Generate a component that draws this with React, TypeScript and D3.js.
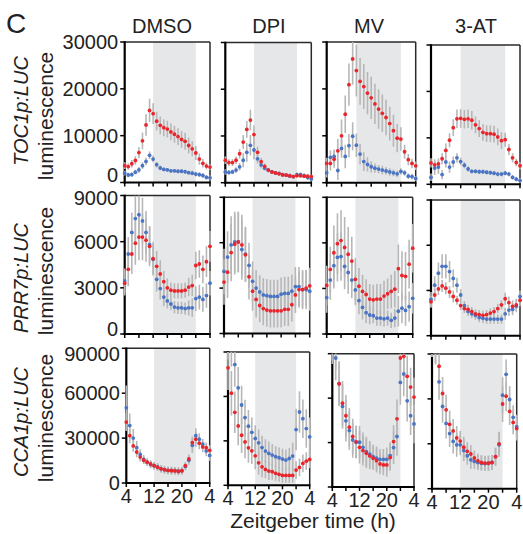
import React from "react";
import * as d3 from "d3";

// ---------- categories / ticks ----------
const ZT = [4, 5, 6, 7, 8, 9, 10, 11, 12, 13, 14, 15, 16, 17, 18, 19, 20, 21, 22, 23, 24, 25, 26, 27, 28];
const treatments = ["DMSO", "DPI", "MV", "3-AT"];
const reporters = ["TOC1p:LUC", "PRR7p:LUC", "CCA1p:LUC"];
const yMaxByRow = [30000, 9000, 90000];
const yTicksByRow = [
  [0, 10000, 20000, 30000],
  [0, 3000, 6000, 9000],
  [0, 30000, 60000, 90000],
];
const xTicks = [4, 8, 12, 16, 20, 24, 28];
const xTickLabelValues = [4, 12, 20, 28];
const xTickLabelTexts = ["4", "12", "20", "4"];
const darkPeriod = [12, 24];

// ---------- TOC1p:LUC ----------
const tocDmsoRed = [3600, 3400, 4000, 4700, 6400, 8900, 12300, 15400, 14700, 13100, 12200, 11700, 11400, 10800, 10300, 9800, 9200, 8800, 7900, 7200, 6300, 5000, 4100, 3500, 3300];
const tocDmsoRedErr = [700, 700, 800, 900, 1200, 1800, 2300, 2500, 2200, 2000, 1900, 1800, 1800, 1800, 1800, 1800, 1800, 1800, 1700, 1600, 1500, 1200, 900, 700, 600];
const tocDmsoBlue = [2000, 1600, 1700, 2200, 2700, 3600, 4500, 5800, 5000, 3800, 3100, 2800, 2700, 2500, 2500, 2400, 2400, 2300, 2100, 2000, 1800, 1700, 1500, 1100, 1000];
const tocDmsoBlueErr = [500, 500, 500, 500, 600, 700, 800, 800, 700, 600, 500, 400, 400, 400, 400, 400, 400, 400, 400, 500, 500, 500, 500, 500, 500];
const tocDpiRed = [4800, 4300, 4300, 4800, 6200, 8700, 11400, 13400, 10300, 6500, 4500, 3500, 2700, 2300, 2100, 1900, 1700, 1600, 1500, 1300, 1500, 1500, 1400, 1400, 1300];
const tocDpiRedErr = [800, 700, 700, 800, 1000, 1500, 1800, 2200, 2000, 1200, 800, 600, 500, 400, 400, 400, 400, 400, 400, 400, 400, 400, 400, 400, 400];
const tocDpiBlue = [2300, 2200, 2300, 2700, 3400, 4800, 6500, 8000, 7000, 5100, 3800, 3100, 2700, 2300, 2100, 2000, 1700, 1600, 1400, 1300, 1700, 1700, 1500, 1100, 800];
const tocDpiBlueErr = [600, 500, 500, 600, 800, 1500, 2000, 2200, 2000, 1000, 700, 500, 400, 400, 400, 400, 400, 400, 400, 400, 500, 500, 500, 500, 500];
const tocMvRed = [4100, 4100, 5000, 6800, 10000, 14600, 20900, 26400, 23900, 21600, 20500, 19100, 18100, 16800, 15700, 14800, 13900, 12600, 11100, 9500, 9300, 6600, 4900, 4100, 3600];
const tocMvRedErr = [1200, 1500, 1800, 2500, 3500, 4000, 4500, 5500, 5500, 5000, 4800, 4500, 4500, 4300, 4200, 4000, 3800, 3600, 3400, 3000, 2500, 1500, 1200, 1000, 900];
const tocMvBlue = [2100, 5400, 5600, 2600, 7300, 5600, 7900, 9900, 8000, 6100, 4500, 3900, 3400, 3100, 2900, 2700, 2500, 2300, 2100, 1900, 2400, 2100, 1400, 1300, 900];
const tocMvBlueErr = [1000, 1500, 1500, 2000, 2000, 2500, 2500, 3000, 2500, 2200, 2000, 1500, 1200, 1000, 900, 900, 800, 800, 700, 700, 700, 600, 600, 600, 500];
const tocAtRed = [4600, 4200, 4400, 5500, 7300, 9500, 12200, 14100, 14200, 14000, 14100, 13800, 12800, 12000, 11200, 10900, 10900, 10800, 10200, 9400, 9600, 7500, 5700, 4700, 4000];
const tocAtRedErr = [1000, 1200, 1200, 1200, 1500, 1500, 1800, 2000, 2000, 2000, 2000, 2000, 1800, 1800, 1800, 1800, 1800, 1800, 1800, 1800, 1500, 1200, 1000, 800, 800];
const tocAtBlue = [1500, 3500, 3700, 2100, 4800, 3700, 4800, 5700, 4900, 4100, 3300, 2800, 2800, 2700, 2700, 2600, 2500, 2400, 2200, 2200, 2400, 2200, 1500, 1100, 800];
const tocAtBlueErr = [800, 1500, 1500, 1000, 1200, 1200, 1200, 1000, 800, 700, 600, 500, 500, 500, 500, 500, 500, 500, 500, 500, 500, 500, 500, 500, 500];

// ---------- PRR7p:LUC ----------
const prrDmsoRed = [3300, 4200, 5200, 5900, 6300, 6300, 6100, 5700, 4900, 4400, 3900, 3400, 3000, 2850, 2800, 2800, 2800, 2850, 3050, 3150, 4450, 4550, 4200, 4700, 5700];
const prrDmsoRedErr = [800, 1100, 1300, 1400, 1500, 1500, 1400, 1300, 1100, 1000, 900, 700, 600, 500, 500, 500, 500, 500, 600, 700, 900, 900, 900, 1000, 1000];
const prrDmsoBlue = [3450, 5200, 6600, 7500, 7750, 7350, 6600, 5800, 4850, 3550, 2950, 2400, 2150, 1950, 1750, 1700, 1700, 1650, 1700, 1700, 2300, 2400, 2250, 2500, 3300];
const prrDmsoBlueErr = [800, 1100, 1300, 1500, 1600, 1500, 1400, 1200, 1000, 800, 700, 600, 500, 400, 400, 400, 400, 400, 500, 600, 800, 800, 800, 800, 800];
const prrDpiRed = [3400, 4050, 5350, 5900, 6050, 5850, 5200, 3750, 2800, 2250, 1850, 1650, 1550, 1500, 1500, 1500, 1500, 1600, 1600, 1900, 2550, 2900, 2900, 3000, 3150];
const prrDpiRedErr = [1500, 1700, 1900, 2000, 2000, 2000, 1800, 1500, 1300, 1200, 1100, 1100, 1100, 1100, 1100, 1100, 1100, 1100, 1100, 1100, 1200, 1200, 1200, 1200, 1200];
const prrDpiBlue = [4100, 5050, 5850, 6050, 6050, 5550, 5250, 4500, 3450, 3000, 2750, 2550, 2500, 2450, 2450, 2450, 2600, 2650, 2650, 2800, 3100, 3100, 2900, 2900, 2800];
const prrDpiBlueErr = [1500, 1700, 1900, 2000, 2000, 2000, 1800, 1500, 1300, 1200, 1100, 1100, 1100, 1100, 1100, 1100, 1100, 1100, 1100, 1100, 1300, 1300, 1300, 1300, 1300];
const prrMvRed = [3200, 4250, 5350, 5950, 6150, 5700, 5250, 4800, 3600, 3150, 2800, 2600, 2300, 2250, 2300, 2300, 2500, 2650, 2800, 2950, 4300, 3850, 3800, 4600, 5650];
const prrMvRedErr = [1300, 1500, 1800, 2000, 2000, 2000, 1800, 1600, 1400, 1200, 1100, 1000, 1000, 1000, 1000, 1000, 1000, 1000, 1100, 1200, 1600, 1600, 1600, 1600, 1600];
const prrMvBlue = [2400, 3550, 4500, 5050, 5100, 4450, 4050, 3550, 2900, 2200, 1750, 1400, 1250, 1200, 1050, 1050, 1000, 1050, 900, 1050, 1500, 1700, 1550, 1800, 2350];
const prrMvBlueErr = [1000, 1300, 1500, 1600, 1600, 1500, 1400, 1200, 1000, 900, 800, 700, 600, 500, 500, 500, 500, 500, 500, 600, 1000, 1000, 1000, 1000, 1000];
const prrAtRed = [2250, 2700, 3100, 3300, 3150, 2900, 2600, 2350, 2000, 1800, 1750, 1600, 1450, 1400, 1350, 1400, 1500, 1600, 1800, 2050, 2450, 2200, 1950, 2050, 2350];
const prrAtRedErr = [400, 400, 400, 400, 400, 400, 400, 300, 300, 300, 300, 300, 300, 300, 300, 300, 300, 300, 300, 300, 400, 400, 400, 400, 400];
const prrAtBlue = [2400, 3350, 4150, 4600, 4600, 4250, 3800, 3350, 2700, 2000, 1600, 1450, 1350, 1200, 1150, 1100, 1100, 1100, 1100, 1100, 1450, 1700, 1750, 1950, 2600];
const prrAtBlueErr = [500, 600, 700, 800, 800, 700, 600, 500, 400, 300, 300, 300, 300, 300, 300, 300, 300, 300, 300, 300, 400, 400, 400, 400, 400];

// ---------- CCA1p:LUC ----------
const ccaDmsoRed = [40700, 31600, 24800, 20700, 17300, 15200, 13900, 12700, 11600, 10500, 9500, 8900, 8400, 8200, 8200, 7700, 8200, 11600, 16100, 27000, 29300, 26600, 24100, 23600, 21800];
const ccaDmsoRedErr = [6000, 5000, 4000, 3500, 3000, 2500, 2500, 2500, 2500, 2500, 2500, 2500, 2500, 2500, 2500, 2500, 2500, 2500, 3000, 4000, 5000, 4000, 3500, 3500, 3500];
const ccaDmsoBlue = [50200, 38400, 30000, 23600, 19100, 15700, 13900, 12300, 11600, 10700, 9500, 8900, 8400, 8400, 8200, 8000, 8200, 11100, 15200, 25200, 31600, 29300, 25900, 21400, 18400];
const ccaDmsoBlueErr = [15000, 8000, 6000, 4500, 3500, 3000, 2500, 2500, 2500, 2500, 2500, 2500, 2500, 2500, 2500, 2500, 2500, 2500, 3000, 5000, 5000, 4000, 3500, 3500, 3500];
const ccaDpiRed = [79300, 62200, 49300, 40100, 33800, 29300, 25300, 23300, 19900, 15200, 12500, 10700, 9600, 9200, 8100, 7400, 6700, 6700, 6700, 6700, 10300, 12100, 14800, 16300, 17500];
const ccaDpiRedErr = [15000, 15000, 14000, 13000, 12000, 11000, 10000, 9000, 9000, 8000, 7000, 6000, 6000, 5500, 5000, 5000, 5000, 5000, 5000, 5000, 6000, 6000, 6000, 6000, 6000];
const ccaDpiBlue = [100000, 95000, 81500, 65800, 54200, 45700, 39900, 35800, 31600, 28700, 25500, 23100, 21500, 20400, 19300, 18600, 17700, 17000, 18100, 19700, 37600, 49500, 45000, 38300, 32700];
const ccaDpiBlueErr = [15000, 15000, 15000, 14000, 13000, 12000, 11000, 10000, 9000, 9000, 8000, 8000, 8000, 7500, 7000, 7000, 7000, 7000, 7000, 9000, 14000, 14000, 13000, 13000, 13000];
const ccaMvRed = [100000, 94000, 69700, 56600, 48100, 40400, 34100, 30500, 26800, 24600, 22800, 21000, 19400, 17800, 15600, 14900, 14900, 19900, 30700, 46000, 87100, 88200, 74700, 67500, 60700];
const ccaMvRedErr = [15000, 15000, 15000, 15000, 14000, 13000, 12000, 11000, 11000, 10000, 10000, 9000, 8000, 8000, 7000, 7000, 8000, 9000, 11000, 13000, 15000, 15000, 14000, 13000, 13000];
const ccaMvBlue = [98000, 87100, 69700, 54400, 44700, 38100, 31800, 30200, 30200, 26800, 23900, 22100, 20500, 19400, 18700, 18700, 18700, 21200, 26600, 34100, 70600, 76300, 58200, 48100, 42600];
const ccaMvBlueErr = [15000, 15000, 15000, 15000, 14000, 13000, 12000, 11000, 11000, 10000, 10000, 9000, 8000, 8000, 7000, 7000, 8000, 9000, 11000, 13000, 15000, 15000, 14000, 13000, 13000];
const ccaAtRed = [100000, 95000, 81800, 63600, 52700, 43000, 38600, 33900, 31800, 27700, 25000, 23200, 20500, 18600, 17500, 17000, 17000, 17500, 21400, 30000, 56600, 61800, 51600, 44300, 40200];
const ccaAtRedErr = [12000, 12000, 12000, 11000, 10000, 9000, 8000, 8000, 7000, 7000, 6000, 6000, 5000, 5000, 5000, 5000, 5000, 5000, 6000, 8000, 12000, 10000, 9000, 8000, 8000];
const ccaAtBlue = [100000, 96000, 71400, 55000, 43600, 36800, 31600, 29300, 29300, 25500, 22000, 19300, 18200, 17500, 17000, 16800, 17000, 17500, 21400, 29300, 62500, 76400, 59600, 47700, 41400];
const ccaAtBlueErr = [12000, 12000, 12000, 11000, 10000, 9000, 8000, 8000, 7000, 7000, 6000, 6000, 5000, 5000, 5000, 5000, 5000, 5000, 6000, 8000, 12000, 10000, 9000, 8000, 8000];

const panelData = [
  [
    { red: tocDmsoRed, redErr: tocDmsoRedErr, blue: tocDmsoBlue, blueErr: tocDmsoBlueErr },
    { red: tocDpiRed, redErr: tocDpiRedErr, blue: tocDpiBlue, blueErr: tocDpiBlueErr },
    { red: tocMvRed, redErr: tocMvRedErr, blue: tocMvBlue, blueErr: tocMvBlueErr },
    { red: tocAtRed, redErr: tocAtRedErr, blue: tocAtBlue, blueErr: tocAtBlueErr },
  ],
  [
    { red: prrDmsoRed, redErr: prrDmsoRedErr, blue: prrDmsoBlue, blueErr: prrDmsoBlueErr },
    { red: prrDpiRed, redErr: prrDpiRedErr, blue: prrDpiBlue, blueErr: prrDpiBlueErr },
    { red: prrMvRed, redErr: prrMvRedErr, blue: prrMvBlue, blueErr: prrMvBlueErr },
    { red: prrAtRed, redErr: prrAtRedErr, blue: prrAtBlue, blueErr: prrAtBlueErr },
  ],
  [
    { red: ccaDmsoRed, redErr: ccaDmsoRedErr, blue: ccaDmsoBlue, blueErr: ccaDmsoBlueErr },
    { red: ccaDpiRed, redErr: ccaDpiRedErr, blue: ccaDpiBlue, blueErr: ccaDpiBlueErr },
    { red: ccaMvRed, redErr: ccaMvRedErr, blue: ccaMvBlue, blueErr: ccaMvBlueErr },
    { red: ccaAtRed, redErr: ccaAtRedErr, blue: ccaAtBlue, blueErr: ccaAtBlueErr },
  ],
];

// ---------- layout (left, top, right, bottom) ----------
const BOX = [
  [[124.7, 42, 210, 182.5], [225.3, 42.5, 311.3, 182.7], [326.7, 42, 415.7, 182.7], [431, 45, 520, 184.3]],
  [[124.7, 195.5, 210, 334], [224, 197.3, 309.7, 333.5], [326.7, 197.3, 412.7, 334], [431, 200, 520, 335.7]],
  [[126.3, 348.3, 209.7, 483], [228, 352, 309.7, 485.3], [332.3, 353.7, 414, 487], [432, 354, 516.7, 488.7]],
];
const TITLE_X = [162, 269, 369, 476];
const ROW_LABEL_Y = [111, 278, 422];
const LUM_Y = [116, 271, 418];
const ZERO_NUDGE = [-7.5, -5, 0];
const TOP_NUDGE = [0, 2.5, 6];

const RED = "#e8262c";
const BLUE = "#4a74c4";
const BAR = "#b7b7b7";
const SHADE = "#e6e7e9";
const FONT = "'Liberation Sans', Arial, Helvetica, sans-serif";

function Panel({ ri, ci }: { ri: number; ci: number }) {
  const [l, t, r, b] = BOX[ri][ci];
  const x = d3.scaleLinear().domain([4, 28]).range([l, r]);
  const y = d3.scaleLinear().domain([0, yMaxByRow[ri]]).range([b, t]);
  const d = panelData[ri][ci];
  const id = `clip-${ri}-${ci}`;
  const series = [
    { v: d.blue, e: d.blueErr, c: BLUE },
    { v: d.red, e: d.redErr, c: RED },
  ];
  const ticks = yTicksByRow[ri];
  const nudge = (v: number) =>
    v === 0 ? ZERO_NUDGE[ri] : v === ticks[ticks.length - 1] ? TOP_NUDGE[ri] : 0;
  return (
    <g>
      <defs>
        <clipPath id={id}>
          <rect x={l - 4} y={t} width={r - l + 8} height={b - t} />
        </clipPath>
      </defs>
      <rect x={x(darkPeriod[0])} y={t} width={x(darkPeriod[1]) - x(darkPeriod[0])} height={b - t} fill={SHADE} />
      <line x1={l} x2={r} y1={t} y2={t} stroke="#2a2a2a" strokeWidth={1.5} />
      <line x1={r} x2={r} y1={t} y2={b} stroke="#2a2a2a" strokeWidth={1.5} />
      <line x1={l} x2={l} y1={t - 0.75} y2={b + 1} stroke="#000" strokeWidth={2.2} />
      <line x1={l - 1} x2={r + 0.75} y1={b} y2={b} stroke="#000" strokeWidth={2} />
      {ticks.map((v) => (
        <line key={v} x1={l - 4.5} x2={l} y1={y(v)} y2={y(v)} stroke="#000" strokeWidth={1.5} />
      ))}
      {xTicks.map((h) => (
        <line key={h} x1={x(h)} x2={x(h)} y1={b} y2={b + 4} stroke="#000" strokeWidth={1.5} />
      ))}
      {ci === 0 &&
        ticks.map((v) => (
          <text key={v} x={l - 6.5} y={y(v) + 7 + nudge(v)} fontSize={20} textAnchor="end" fill="#222">
            {v}
          </text>
        ))}
      {ri === 2 &&
        xTickLabelValues.map((h, k) => (
          <text key={h} x={x(h)} y={b + 20} fontSize={20} textAnchor="middle" fill="#222">
            {xTickLabelTexts[k]}
          </text>
        ))}
      <g clipPath={`url(#${id})`}>
        {series.map((s, si) =>
          ZT.map((h, k) => (
            <line
              key={`e${si}-${k}`}
              x1={x(h)}
              x2={x(h)}
              y1={y(s.v[k] + s.e[k])}
              y2={y(s.v[k] - s.e[k])}
              stroke={BAR}
              strokeWidth={1.6}
            />
          ))
        )}
        {series.map((s, si) =>
          ZT.map((h, k) => <circle key={`p${si}-${k}`} cx={x(h)} cy={y(s.v[k])} r={1.9} fill={s.c} />)
        )}
      </g>
    </g>
  );
}

export default function App() {
  return (
    <svg
      width={523}
      height={534}
      style={{ position: "absolute", left: 0, top: 0, background: "#fff" }}
      fontFamily={FONT}
    >
      <rect x={0} y={0} width={523} height={534} fill="#fff" />
      <text x={6} y={33} fontSize={28} fill="#222">C</text>
      {treatments.map((t, i) => (
        <text key={t} x={TITLE_X[i]} y={33} fontSize={20} textAnchor="middle" fill="#222">
          {t}
        </text>
      ))}
      {reporters.map((rep, ri) => (
        <g key={rep}>
          <text
            transform={`translate(28,${ROW_LABEL_Y[ri]}) rotate(-90)`}
            fontStyle="italic"
            textAnchor="middle"
            fontSize={20}
            fill="#222"
          >
            {rep}
          </text>
          <text transform={`translate(53,${LUM_Y[ri]}) rotate(-90)`} textAnchor="middle" fontSize={21} fill="#222">
            luminescence
          </text>
        </g>
      ))}
      {BOX.map((row, ri) => row.map((_, ci) => <Panel key={`${ri}-${ci}`} ri={ri} ci={ci} />))}
      <text x={313} y={528} fontSize={21} textAnchor="middle" fill="#222">
        Zeitgeber time (h)
      </text>
    </svg>
  );
}
